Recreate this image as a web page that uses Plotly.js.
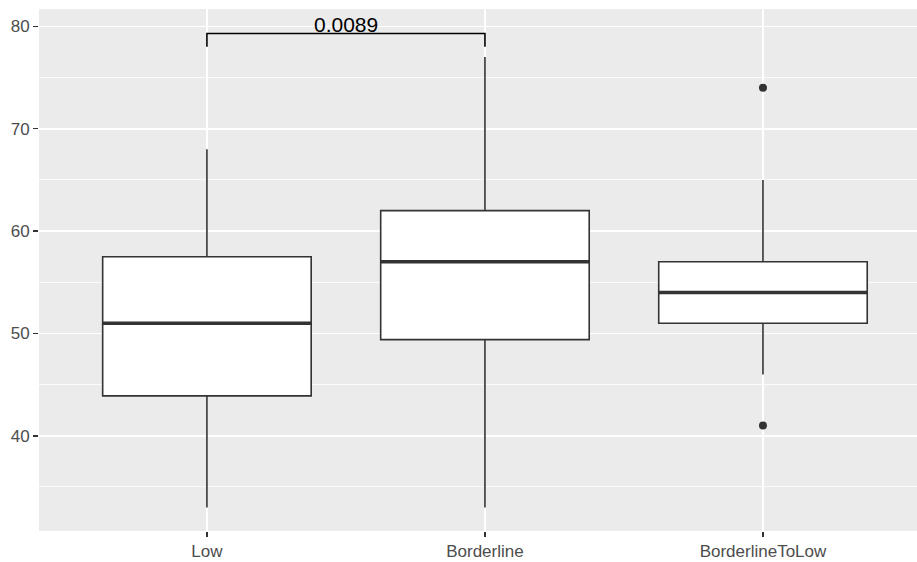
<!DOCTYPE html>
<html>
<head>
<meta charset="utf-8">
<script src="https://cdn.plot.ly/plotly-3.0.1.min.js"></script>
<style>
  html, body { margin: 0; padding: 0; background: #ffffff; }
  #chart { width: 917px; height: 562px; }
</style>
</head>
<body>
<div id="chart"></div>
<script>
// Group labels and box statistics
const categories = ['Low', 'Borderline', 'BorderlineToLow'];
const lowerWhisker = [33, 33, 46];
const q1Values = [43.9, 49.4, 51];
const medianValues = [51, 57, 54];
const q3Values = [57.5, 62, 57];
const upperWhisker = [68, 77, 65];

// Points beyond the whiskers
const outlierGroup = [2, 2];
const outlierValues = [74, 41];

// Pairwise comparison shown above the boxes
const comparePair = [0, 1];
const compareLabel = '0.0089';
const bracketY = 79.3;
const bracketTipY = 78.0;

const positions = categories.map((_, i) => i);
const boxWidth = 0.75;
const ink = '#333333';

const boxTrace = {
  type: 'box',
  x: positions,
  q1: q1Values,
  median: medianValues,
  q3: q3Values,
  lowerfence: lowerWhisker,
  upperfence: upperWhisker,
  width: boxWidth,
  whiskerwidth: 0,
  boxpoints: false,
  fillcolor: '#ffffff',
  line: { color: ink, width: 1.6 },
  hoverinfo: 'skip',
  showlegend: false
};

const outlierTrace = {
  type: 'scatter',
  mode: 'markers',
  x: outlierGroup,
  y: outlierValues,
  marker: { color: ink, size: 8 },
  hoverinfo: 'skip',
  showlegend: false
};

// Thick median bars across each box
const medianShapes = medianValues.map((m, i) => ({
  type: 'line', xref: 'x', yref: 'y',
  x0: positions[i] - boxWidth / 2, x1: positions[i] + boxWidth / 2,
  y0: m, y1: m,
  line: { color: ink, width: 3.4 }
}));

const bracketShape = {
  type: 'path', xref: 'x', yref: 'y',
  path: `M ${comparePair[0]},${bracketTipY} L ${comparePair[0]},${bracketY} ` +
        `L ${comparePair[1]},${bracketY} L ${comparePair[1]},${bracketTipY}`,
  line: { color: '#000000', width: 1.6 }
};

const layout = {
  width: 917,
  height: 562,
  margin: { l: 39, r: 0, t: 9, b: 31, pad: 0 },
  paper_bgcolor: '#ffffff',
  plot_bgcolor: '#EBEBEB',
  showlegend: false,
  xaxis: {
    range: [-0.604, 2.554],
    tickmode: 'array',
    tickvals: positions,
    ticktext: categories,
    showgrid: true,
    gridcolor: '#ffffff',
    gridwidth: 1.6,
    zeroline: false,
    showline: false,
    ticks: 'outside',
    ticklen: 5,
    tickwidth: 1.4,
    tickcolor: ink,
    tickfont: { family: 'Liberation Sans, Arial, sans-serif', size: 17, color: '#4D4D4D' },
    fixedrange: true
  },
  yaxis: {
    range: [30.7, 81.7],
    tick0: 0,
    dtick: 10,
    showgrid: true,
    gridcolor: '#ffffff',
    gridwidth: 1.6,
    minor: { tick0: 0, dtick: 5, showgrid: true, gridcolor: '#ffffff', gridwidth: 0.8, ticks: '' },
    zeroline: false,
    showline: false,
    ticks: 'outside',
    ticklen: 5,
    tickwidth: 1.4,
    tickcolor: ink,
    tickfont: { family: 'Liberation Sans, Arial, sans-serif', size: 17, color: '#4D4D4D' },
    fixedrange: true
  },
  shapes: [...medianShapes, bracketShape],
  annotations: [{
    x: (comparePair[0] + comparePair[1]) / 2,
    y: bracketY,
    xref: 'x', yref: 'y',
    text: compareLabel,
    showarrow: false,
    xanchor: 'center',
    yanchor: 'bottom',
    yshift: -4,
    font: { family: 'Liberation Sans, Arial, sans-serif', size: 21, color: '#000000' }
  }]
};

Plotly.newPlot('chart', [boxTrace, outlierTrace], layout, { displayModeBar: false, staticPlot: true });
</script>
</body>
</html>
